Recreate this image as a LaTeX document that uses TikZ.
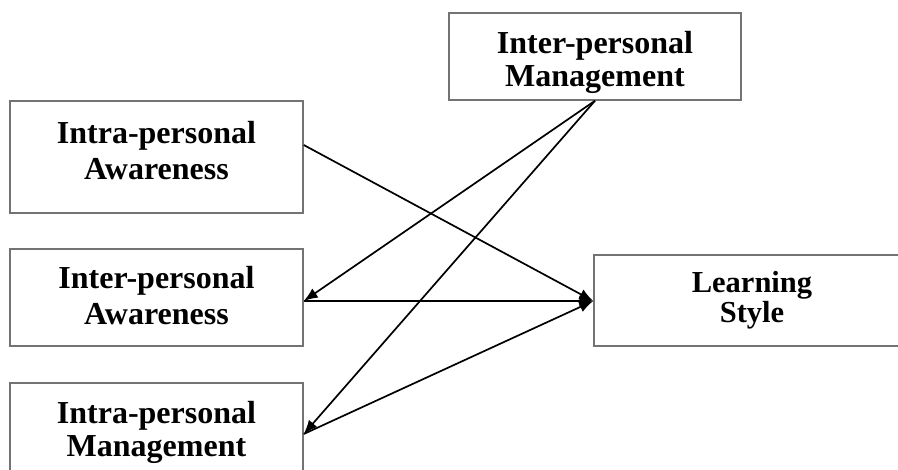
\documentclass[tikz,border=0pt]{standalone}
\usepackage{fontspec}
\setmainfont{Liberation Serif}
\usetikzlibrary{arrows.meta}
\begin{document}
\begin{tikzpicture}[x=1pt,y=-1pt,
  box/.style={draw=black!55, line width=1.5pt, fill=white, inner sep=0pt},
  txt/.style={inner sep=0pt, align=center, font=\bfseries\fontsize{32}{#1}\selectfont},
  conn/.style={line width=1.7pt, -{Latex[length=14pt,width=11pt]}}]
\useasboundingbox (0,0) rectangle (898,470);
\clip (0,0) rectangle (898,470);
\fill[white] (0,0) rectangle (898,470);
% boxes
\node[box, minimum width=293pt, minimum height=112pt] (b1) at (156.5,157) {};
\node[box, minimum width=293pt, minimum height=97pt] (b2) at (156.5,297.5) {};
\node[box, minimum width=293pt, minimum height=112pt] (b3) at (156.5,439) {};
\node[box, minimum width=292pt, minimum height=87pt] (b4) at (595,56.5) {};
\node[box, minimum width=316pt, minimum height=91pt] (b5) at (752,300.5) {};
% texts
\node[txt=36pt] (t1) at (156.5,150.5) {Intra-personal\\Awareness};
\node[txt=36pt] (t2) at (156.5,295.5) {Inter-personal\\Awareness};
\node[txt=33pt] (t3) at (156.5,432) {Intra-personal\\Management};
\node[txt=33pt] (t4) at (595,62.5) {Inter-personal\\Management};
\node[txt=30pt, font=\bfseries\fontsize{30.5}{30}\selectfont] (t5) at (752,300.5) {Learning\\Style};
% connection points
\coordinate (p1) at ([yshift=12pt]b1.east);
\coordinate (p2) at ([yshift=-3.5pt]b2.east);
\coordinate (p3) at ([yshift=5pt]b3.east);
\coordinate (hub) at ([yshift=-0.5pt]b5.west);
% connectors
\draw[conn] (p1) -- (hub);
\draw[conn] (p2) -- (hub);
\draw[conn] (p3) -- (hub);
\draw[conn] (b4.south) -- (p2);
\draw[conn] (b4.south) -- (p3);
\end{tikzpicture}
\end{document}
